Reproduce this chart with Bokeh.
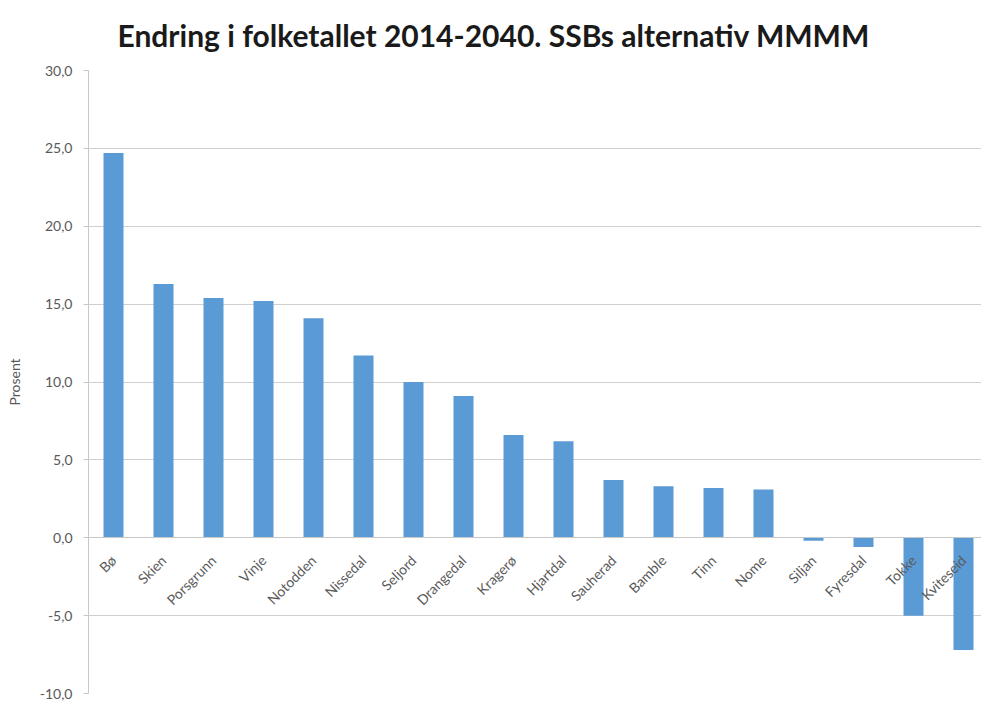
import math
from bokeh.plotting import figure
from bokeh.models import Range1d, FixedTicker, LinearAxis
from bokeh.embed import file_html
from bokeh.resources import INLINE

categories = ["Bø", "Skien", "Porsgrunn", "Vinje", "Notodden", "Nissedal", "Seljord",
              "Drangedal", "Kragerø", "Hjartdal", "Sauherad", "Bamble", "Tinn", "Nome",
              "Siljan", "Fyresdal", "Tokke", "Kviteseid"]
values = [24.7, 16.3, 15.4, 15.2, 14.1, 11.7, 10.0, 9.1, 6.6, 6.2, 3.7, 3.3, 3.2, 3.1,
          -0.2, -0.6, -5.0, -7.2]
y_ticks = [-10, -5, 0, 5, 10, 15, 20, 25, 30]
y_tick_labels = ["-10,0", "-5,0", "0,0", "5,0", "10,0", "15,0", "20,0", "25,0", "30,0"]
title_text = "Endring i folketallet 2014-2040. SSBs alternativ MMMM"
y_label = "Prosent"

xs = list(range(len(categories)))

p = figure(width=981, height=706, output_backend="svg", toolbar_location=None,
           x_range=Range1d(-0.5, 17.36), y_range=Range1d(-10, 30),
           x_axis_location=None, y_axis_location=None,
           min_border_left=88, min_border_right=0, min_border_bottom=13, min_border_top=69)

p.title.text = title_text
p.title.text_font = "Lato"
p.title.text_font_size = "30px"
p.title.text_font_style = "bold"
p.title.text_color = "#1a1a1a"
p.title.align = "left"
p.title.offset = 29
p.title.vertical_align = "top"
p.title.standoff = 32

p.outline_line_color = None
p.background_fill_color = "white"
p.border_fill_color = "white"

p.vbar(x=xs, top=values, bottom=0, width=0.4, fill_color="#5B9BD5", line_color=None)

# y axis
yax = LinearAxis(ticker=FixedTicker(ticks=y_ticks),
                 major_label_overrides={t: l for t, l in zip(y_ticks, y_tick_labels)})
yax.axis_line_color = "#c8c8c8"
yax.major_tick_line_color = "#c8c8c8"
yax.major_tick_out = 5
yax.major_tick_in = 0
yax.minor_tick_line_color = None
yax.major_label_text_font = "Lato"
yax.major_label_text_font_size = "14px"
yax.major_label_text_color = "#595959"
yax.major_label_standoff = 11
yax.axis_label = y_label
yax.axis_label_text_font = "Lato"
yax.axis_label_text_font_size = "14px"
yax.axis_label_text_font_style = "normal"
yax.axis_label_text_color = "#595959"
yax.axis_label_standoff = 14
p.add_layout(yax, "left")

# x axis at zero
xax = LinearAxis(ticker=FixedTicker(ticks=xs),
                 major_label_overrides={i: c for i, c in zip(xs, categories)},
                 fixed_location=0)
xax.axis_line_color = "#c8c8c8"
xax.major_tick_line_color = None
xax.minor_tick_line_color = None
xax.major_label_orientation = math.pi / 4
xax.major_label_text_font = "Lato"
xax.major_label_text_font_size = "14px"
xax.major_label_text_color = "#595959"
xax.major_label_standoff = 14
p.add_layout(xax, "below")

p.ygrid.ticker = FixedTicker(ticks=y_ticks)
p.ygrid.grid_line_color = "#d0d0d0"
p.xgrid.grid_line_color = None

open("out.html", "w").write(file_html(p, INLINE))
